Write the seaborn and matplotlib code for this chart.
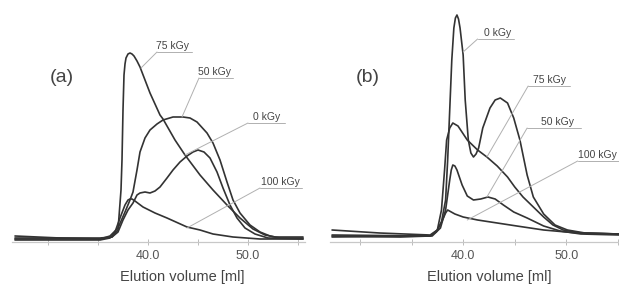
import numpy as np
import pandas as pd
import matplotlib
matplotlib.use("Agg")
import matplotlib.pyplot as plt
import seaborn as sns

# -------------------------------
# SEC chromatograms, irradiated samples (a) and (b)
# -------------------------------

# panel (a): elution volume [ml] and detector signal (arbitrary units)
a_75_ml = [26.7, 31.2, 35.2, 36.4, 37.0, 37.3, 37.4, 37.5, 37.6, 37.7, 37.8, 38.0, 38.2, 38.4,
           38.6, 38.9, 39.2, 40.2, 41.2, 41.5, 42.7, 43.7, 45.2, 46.5, 47.9, 49.2, 50.5, 51.7,
           52.7, 55.5]
a_75_sig = [4, 2, 1, 3, 10, 50, 80, 130, 165, 176, 182, 186, 187, 186,
            184, 179, 173, 147, 125, 121, 100, 85, 65, 50, 35, 22, 11, 5,
            3, 3]

a_50_ml = [26.7, 35.2, 36.2, 37.0, 37.7, 38.2, 38.5, 38.9, 39.2, 39.7, 40.2, 40.9, 41.5, 42.5,
           43.5, 44.2, 44.9, 45.9, 46.5, 47.2, 47.9, 48.5, 49.2, 50.2, 51.2, 52.2, 53.2, 55.5]
a_50_sig = [1, 1, 4, 12, 28, 40, 48, 70, 88, 102, 110, 116, 120, 123,
            123, 122, 118, 107, 97, 80, 58, 40, 27, 15, 8, 4, 2, 2]

a_0_ml = [26.7, 35.2, 36.4, 37.0, 37.5, 38.0, 38.5, 38.9, 39.2, 39.7, 40.2, 40.7, 41.2, 41.9,
          42.5, 43.2, 43.9, 44.5, 45.0, 45.6, 46.2, 46.9, 47.5, 48.2, 48.9, 49.7, 50.7, 52.0, 55.5]
a_0_sig = [2, 2, 3, 8, 20, 30, 37, 45, 47, 48, 47, 49, 53, 62,
           70, 78, 84, 88, 90, 88, 82, 68, 52, 35, 22, 12, 6, 2, 1]

a_100_ml = [26.7, 35.2, 36.2, 36.7, 37.2, 37.7, 38.0, 38.2, 38.4, 38.7, 39.5, 40.7, 41.9, 43.9,
            45.2, 46.5, 48.5, 51.2, 55.5]
a_100_sig = [0, 0, 2, 8, 22, 35, 40, 41, 41, 39, 33, 27, 22, 13,
             10, 6, 3, 1, 1]

# panel (b)
b_0_ml = [27.3, 33.9, 36.8, 37.4, 37.9, 38.3, 38.5, 38.7, 38.9, 39.1, 39.25, 39.4, 39.55, 39.7,
          40.0, 40.2, 40.5, 40.75, 41.0, 41.25, 41.5, 41.9, 42.6, 43.1, 43.6, 44.3, 44.9, 45.5,
          46.2, 46.8, 47.8, 48.9, 50.1, 51.8, 55.1]
b_0_sig = [4, 3, 4, 8, 18, 40, 80, 130, 180, 212, 222, 225, 221, 212,
           185, 140, 100, 87, 83, 86, 92, 112, 132, 140, 142, 137, 122, 100,
           65, 43, 26, 15, 10, 7, 6]

b_75_ml = [27.3, 36.8, 37.5, 37.9, 38.2, 38.4, 38.7, 39.0, 39.5, 40.4, 41.4, 42.3, 43.3, 44.3,
           45.0, 45.8, 46.8, 47.8, 48.7, 49.7, 51.4, 55.1]
b_75_sig = [5, 4, 10, 30, 70, 100, 112, 117, 114, 100, 90, 83, 74, 63,
            53, 43, 33, 23, 15, 10, 7, 6]

b_50_ml = [27.3, 37.0, 37.8, 38.3, 38.7, 38.85, 39.0, 39.2, 39.4, 39.9, 40.4, 41.0, 41.7, 42.4,
           43.1, 43.9, 44.9, 46.2, 47.8, 49.4, 51.4, 55.1]
b_50_sig = [3, 4, 12, 30, 60, 70, 75, 74, 70, 55, 44, 40, 41, 43,
            41, 35, 28, 22, 14, 9, 6, 5]

b_100_ml = [27.3, 31.9, 36.8, 37.5, 38.0, 38.3, 38.5, 39.2, 40.0, 41.4, 43.3, 45.2, 47.8, 51.1, 55.1]
b_100_sig = [10, 7, 5, 10, 20, 27, 30, 26, 23, 20, 17, 14, 10, 7, 6]

doses = ["0 kGy", "50 kGy", "75 kGy", "100 kGy"]

# label text centre (ml, signal), underline (x0, x1, y), leader end (ml, signal)
a_labels = {
    "75 kGy": (42.5, 189, 40.9, 44.4, 188, 39.3, 172),
    "50 kGy": (46.7, 163, 45.1, 48.5, 162, 43.4, 123),
    "0 kGy": (51.9, 118, 50.0, 53.7, 117, 43.7, 85),
    "100 kGy": (53.2, 53, 51.2, 55.4, 52, 43.9, 12),
}
b_labels = {
    "0 kGy": (43.3, 202, 41.4, 44.9, 201, 40.0, 188),
    "75 kGy": (48.4, 155, 46.3, 50.4, 154, 42.3, 83),
    "50 kGy": (49.1, 113, 46.2, 51.4, 112, 42.3, 43),
    "100 kGy": (53.0, 80, 51.1, 55.3, 79, 40.4, 20),
}


def to_long(series):
    frames = []
    for dose, (ml, sig) in series.items():
        frames.append(pd.DataFrame({"ml": ml, "signal": sig, "dose": dose}))
    return pd.concat(frames, ignore_index=True)


df_a = to_long({"0 kGy": (a_0_ml, a_0_sig), "50 kGy": (a_50_ml, a_50_sig),
                "75 kGy": (a_75_ml, a_75_sig), "100 kGy": (a_100_ml, a_100_sig)})
df_b = to_long({"0 kGy": (b_0_ml, b_0_sig), "50 kGy": (b_50_ml, b_50_sig),
                "75 kGy": (b_75_ml, b_75_sig), "100 kGy": (b_100_ml, b_100_sig)})

sns.set_style("white")
plt.rcParams["font.family"] = ["Liberation Sans", "DejaVu Sans"]

fig = plt.figure(figsize=(6.19, 2.86), dpi=100)
ax_a = fig.add_axes([12 / 619, 44 / 286, 293 / 619, 232 / 286])
ax_b = fig.add_axes([330 / 619, 44 / 286, 289 / 619, 232 / 286])

pal = {d: "#333333" for d in doses}
panels = [(ax_a, df_a, a_labels, "(a)", (26.4, 55.7), 0.58, 0.17),
          (ax_b, df_b, b_labels, "(b)", (27.1, 55.1), 0.55, 0.13)]

for ax, df, labels, tag, xlim, lab_x, tag_x in panels:
    sns.lineplot(data=df, x="ml", y="signal", hue="dose", palette=pal, estimator=None,
                 sort=False, linewidth=1.2, legend=False, ax=ax)
    for line in ax.get_lines():
        line.set_solid_joinstyle("round")
    for name, (tx, ty, ux0, ux1, uy, lx, ly) in labels.items():
        ax.text(tx, ty, name, ha="center", va="bottom", fontsize=7.5, color="#444444")
        ax.plot([ux0, ux1], [uy, uy], color="#b0b0b0", lw=0.7)
        ax.plot([ux0, lx], [uy, ly], color="#b0b0b0", lw=0.7)
    ax.text(tag_x, 0.71, tag, transform=ax.transAxes, fontsize=14, color="#444444",
            ha="center", va="center")
    ax.set_xlim(*xlim)
    ax.set_ylim(-2, 230)
    ax.set_xticks([30, 35, 40, 45, 50, 55])
    ax.set_xticklabels(["", "", "40.0", "", "50.0", ""])
    ax.set_yticks([])
    ax.set_ylabel("")
    ax.set_xlabel("Elution volume [ml]", fontsize=10.5, color="#444444")
    ax.xaxis.set_label_coords(lab_x, -0.12)
    ax.tick_params(axis="x", direction="inout", length=4, width=0.7, color="#bbbbbb",
                   labelsize=9, labelcolor="#555555", pad=4, bottom=True)
    sns.despine(ax=ax, left=True, top=True, right=True)
    ax.spines["bottom"].set_color("#c8c8c8")
    ax.spines["bottom"].set_linewidth(0.9)

fig.savefig("out.png", dpi=100)
